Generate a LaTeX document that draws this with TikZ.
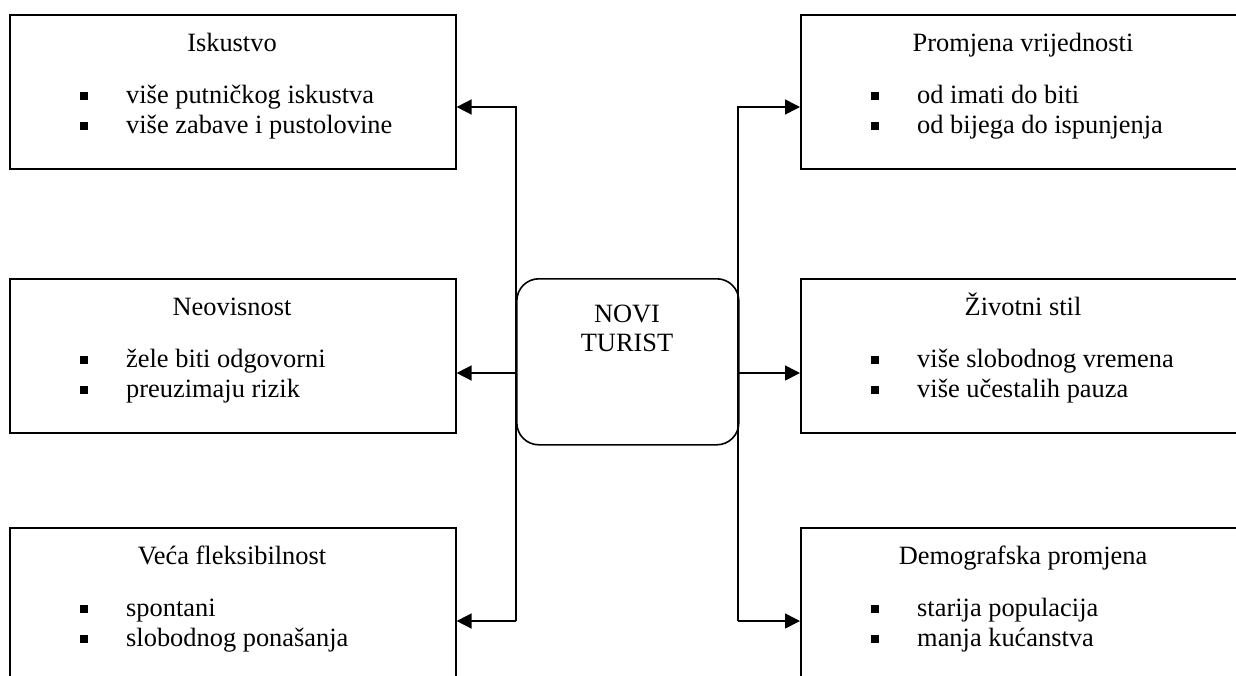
\documentclass[tikz,border=0pt]{standalone}
\usepackage{fontspec}
\setmainfont{Liberation Serif}
\usetikzlibrary{arrows.meta}
\tikzset{
  panel/.style={draw, line width=1.6pt, minimum width=446pt, minimum height=154pt, anchor=north west, inner sep=0pt},
  hub/.style={draw, line width=1.6pt, rounded corners=22pt, minimum width=222pt, minimum height=166pt, anchor=north west, inner sep=0pt},
  txt/.style={inner sep=0pt, font=\fontsize{26.4pt}{30pt}\selectfont},
  ttl/.style={txt, anchor=base},
  itm/.style={txt, anchor=base west},
  sq/.style={fill=black, minimum size=8pt, inner sep=0pt},
  ln/.style={line width=1.6pt},
  arr/.style={ln, -{Triangle[length=15pt,width=15pt]}},
}
\newcommand\mypanel[6]{%
  \node[panel] (#1) at (#2,#3) {};
  \node[ttl] (#1t) at (#2+223,#3+37) {#4};
  \node[sq] (#1p) at (#2+75,#3+82) {};
  \node[itm] (#1a) at (#2+117,#3+89) {#5};
  \node[sq] (#1q) at (#2+75,#3+112) {};
  \node[itm] (#1b) at (#2+117,#3+119) {#6};
}
\begin{document}
\begin{tikzpicture}[x=1pt,y=-1pt]
\useasboundingbox (0,0) rectangle (1236,675);
\mypanel{L1}{9}{14}{Iskustvo}{više putničkog iskustva}{više zabave i pustolovine}
\mypanel{L2}{9}{278}{Neovisnost}{žele biti odgovorni}{preuzimaju rizik}
\mypanel{L3}{9}{527}{Veća fleksibilnost}{spontani}{slobodnog ponašanja}
\mypanel{R1}{800}{14}{Promjena vrijednosti}{od imati do biti}{od bijega do ispunjenja}
\mypanel{R2}{800}{278}{Životni stil}{više slobodnog vremena}{više učestalih pauza}
\mypanel{R3}{800}{527}{Demografska promjena}{starija populacija}{manja kućanstva}
\node[hub] (c) at (516,278) {};
\node[ttl] (c1) at (627,322) {NOVI};
\node[ttl] (c2) at (627,351) {TURIST};
\coordinate (lt) at (516,107);
\coordinate (lm) at (516,373);
\coordinate (lb) at (516,621);
\coordinate (rt) at (738,107);
\coordinate (rm) at (738,373);
\coordinate (rb) at (738,621);
\draw[arr] (lb) -- (lt) -- (L1.east |- lt);
\draw[arr] (lm) -- (L2.east |- lm);
\draw[arr] (lb) -- (L3.east |- lb);
\draw[arr] (rb) -- (rt) -- (R1.west |- rt);
\draw[arr] (rm) -- (R2.west |- rm);
\draw[arr] (rb) -- (R3.west |- rb);
\end{tikzpicture}
\end{document}
